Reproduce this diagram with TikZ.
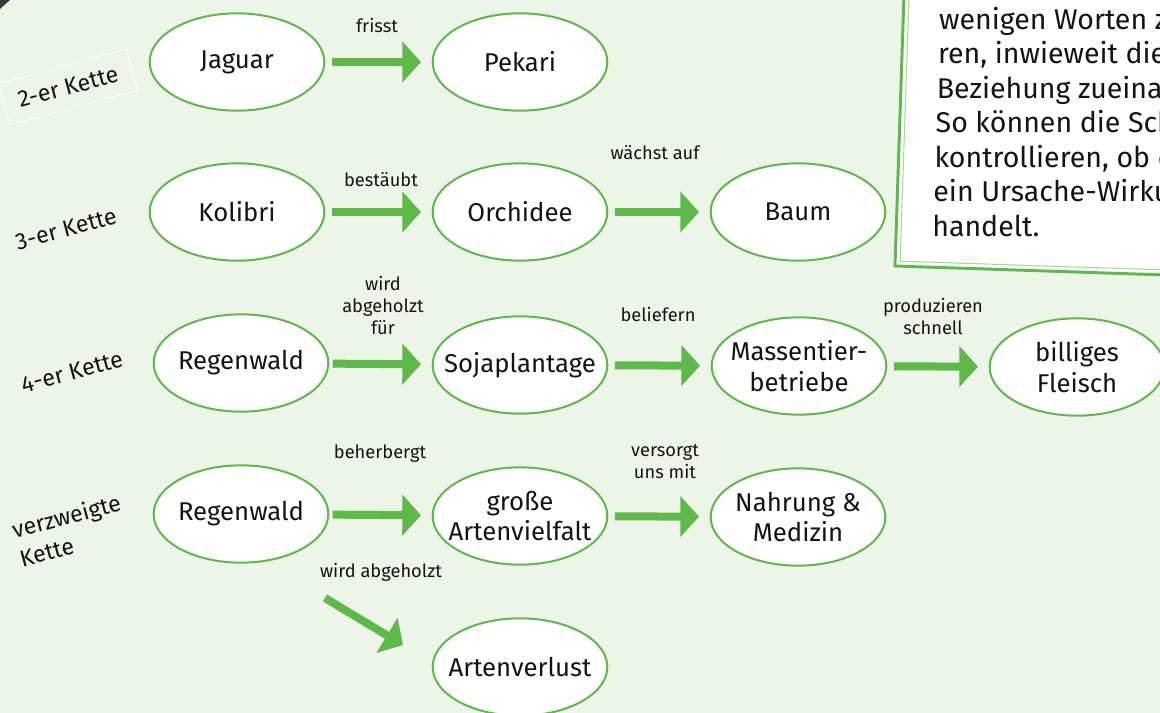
\documentclass[tikz,border=0pt]{standalone}
\usepackage{fontspec}
\setmainfont{Fira Sans}
\usepackage{tikz}
\usetikzlibrary{arrows.meta}
\usetikzlibrary{shapes.geometric}
\pgfdeclarelayer{edgelayer}
\pgfdeclarelayer{nodelayer}
\pgfsetlayers{edgelayer,nodelayer,main}
\definecolor{kettengruen}{RGB}{94,184,74}
\definecolor{hintergrund}{RGB}{237,245,233}
\definecolor{randgruen}{RGB}{165,216,155}
\definecolor{schrift}{RGB}{20,20,20}
\tikzstyle{none}=[inner sep=0pt]
\tikzstyle{glied}=[ellipse, draw=kettengruen, line width=1.5pt, fill=white, minimum width=131pt, minimum height=73pt, inner xsep=-16pt, inner ysep=0pt, align=center, text=schrift, font=\fontsize{19.3}{23}\selectfont]
\tikzstyle{verb}=[align=center, text=schrift, font=\fontsize{13.7}{16.5}\selectfont]
\tikzstyle{kettenname}=[rotate=15, align=left, text=schrift, font=\fontsize{17.4}{22}\selectfont]
\tikzstyle{kastenzeile}=[anchor=base west, inner sep=0pt, text=schrift, font=\fontsize{21.4}{26}\selectfont]
\tikzstyle{pfeil}=[-{Triangle[length=14pt,width=30pt]}, line width=6pt, draw=kettengruen, shorten <=5pt, shorten >=8pt]
\tikzstyle{schraegpfeil}=[-{Triangle[length=14pt,width=30pt]}, line width=6pt, draw=kettengruen]

\begin{document}
\begin{tikzpicture}[x=0.75pt, y=-0.75pt]
	\useasboundingbox (0,0) rectangle (1160,713);
	\begin{pgfonlayer}{edgelayer}
		\fill [hintergrund] (0,0) rectangle (1160,713);
		\fill [black!78] (0,0) -- (10,0) -- (0,9) -- cycle;
	\end{pgfonlayer}
	\begin{pgfonlayer}{nodelayer}
		\node [style=glied] (0) at (237, 62) {Jaguar};
		\node [style=glied] (1) at (520, 62) {Pekari};
		\node [style=glied] (2) at (237, 212) {Kolibri};
		\node [style=glied] (3) at (520, 212) {Orchidee};
		\node [style=glied] (4) at (798, 212) {Baum};
		\node [style=glied] (5) at (241, 363) {Regenwald};
		\node [style=glied] (6) at (520, 365) {Sojaplantage};
		\node [style=glied] (7) at (799, 366) {Massentier-\\betriebe};
		\node [style=glied] (8) at (1077, 367) {billiges\\Fleisch};
		\node [style=glied] (9) at (241, 514) {Regenwald};
		\node [style=glied] (10) at (520, 516) {große\\Artenvielfalt};
		\node [style=glied] (11) at (798, 517) {Nahrung \&\\Medizin};
		\node [style=glied] (12) at (520, 667) {Artenverlust};
		\node [style=verb] (13) at (377, 25) {frisst};
		\node [style=verb] (14) at (381, 180) {bestäubt};
		\node [style=verb] (15) at (655, 153) {wächst auf};
		\node [style=verb] (16) at (383, 305) {wird\\abgeholzt\\für};
		\node [style=verb] (17) at (658, 314) {beliefern};
		\node [style=verb] (18) at (933, 316) {produzieren\\schnell};
		\node [style=verb] (19) at (380, 454) {beherbergt};
		\node [style=verb] (20) at (665, 462) {versorgt\\uns mit};
		\node [style=verb] (21) at (381, 572) {wird abgeholzt};
		\node [style=kettenname, draw=white, line width=0.6pt, minimum width=99pt, minimum height=32pt] (22) at (68, 87) {2-er Kette};
		\node [style=kettenname] (23) at (66, 229) {3-er Kette};
		\node [style=kettenname] (24) at (72, 372) {4-er Kette};
		\node [style=kettenname] (25) at (70, 530) {verzweigte\\Kette};
		\node [style=none] (26) at (325, 598) {};
		\node [style=none] (27) at (403, 645) {};
	\end{pgfonlayer}
	\begin{pgfonlayer}{edgelayer}
		\draw [style=pfeil] (0) to (1);
		\draw [style=pfeil] (2) to (3);
		\draw [style=pfeil] (3) to (4);
		\draw [style=pfeil, shorten <=2.5pt] (5) to (6);
		\draw [style=pfeil] (6) to (7);
		\draw [style=pfeil] (7) to (8);
		\draw [style=pfeil, shorten <=2.5pt] (9) to (10);
		\draw [style=pfeil] (10) to (11);
		\draw [style=schraegpfeil] (26.center) to (27.center);
	\end{pgfonlayer}
	\begin{scope}[rotate around={-1.9:(895,266)}]
		\draw [draw=kettengruen, line width=2.2pt, fill=white] (895,-80) rectangle (1260,266);
		\draw [draw=randgruen, line width=0.8pt] (900,-80) rectangle (1260,261);
		\node [style=kastenzeile] (28) at (931, 28) {wenigen Worten z};
		\node [style=kastenzeile] (29) at (931, 62.5) {ren, inwieweit die};
		\node [style=kastenzeile] (30) at (931, 97) {Beziehung zueina};
		\node [style=kastenzeile] (31) at (931, 131.5) {So können die Sch};
		\node [style=kastenzeile] (32) at (931, 166) {kontrollieren, ob e};
		\node [style=kastenzeile] (33) at (931, 200.5) {ein Ursache-Wirku};
		\node [style=kastenzeile] (34) at (931, 235) {handelt.};
	\end{scope}
\end{tikzpicture}
\end{document}
